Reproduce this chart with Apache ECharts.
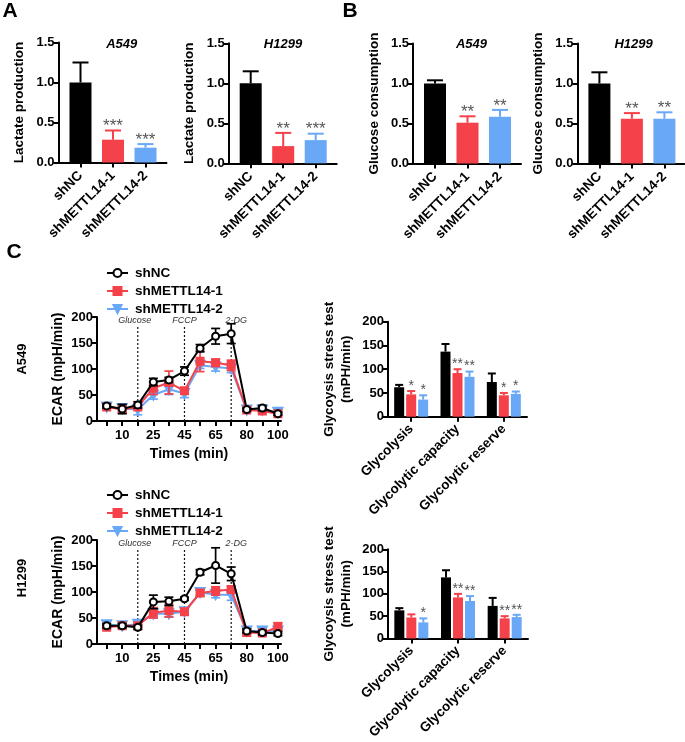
<!DOCTYPE html>
<html><head><meta charset="utf-8">
<script src="https://cdn.jsdelivr.net/npm/echarts@6/dist/echarts.min.js"></script>
<style>html,body{margin:0;padding:0;background:#fff}#c{width:685px;height:742px}</style>
</head><body><div id="c"></div>
<script>
// ---------------- DATA ----------------
const groupNames = ['shNC', 'shMETTL14-1', 'shMETTL14-2'];

// Panel A: lactate production
const lactA549 = [1.00, 0.285, 0.185];
const lactA549Sd = [0.25, 0.115, 0.045];
const lactA549Sig = ['', '***', '***'];
const lactH1299 = [1.00, 0.215, 0.29];
const lactH1299Sd = [0.15, 0.165, 0.08];
const lactH1299Sig = ['', '**', '***'];

// Panel B: glucose consumption
const glucA549 = [1.00, 0.51, 0.585];
const glucA549Sd = [0.04, 0.08, 0.085];
const glucA549Sig = ['', '**', '**'];
const glucH1299 = [1.00, 0.56, 0.56];
const glucH1299Sd = [0.14, 0.07, 0.08];
const glucH1299Sig = ['', '**', '**'];

// Panel C: ECAR time course (12 measurements)
const timeTickLabels = ['10', '25', '45', '65', '80', '100'];
const timeTickPoints = [2, 4, 6, 8, 10, 12];
const injections = ['Glucose', 'FCCP', '2-DG'];
const injectionPoints = [3, 6, 9];

const ecarA549_shNC = [29, 23, 31, 75, 79, 96, 140, 163, 168, 22, 25, 14];
const ecarA549_shNC_sd = [4, 9, 6, 7, 5, 8, 7, 15, 19, 3, 5, 3];
const ecarA549_sh1 = [27, 22, 27, 63, 74, 58, 115, 112, 107, 21, 19, 14];
const ecarA549_sh1_sd = [3, 5, 4, 12, 22, 6, 20, 7, 10, 3, 3, 3];
const ecarA549_sh2 = [27, 24, 22, 50, 61, 53, 107, 104, 101, 21, 21, 17];
const ecarA549_sh2_sd = [3, 4, 10, 8, 10, 8, 6, 8, 8, 3, 3, 5];

const ecarH1299_shNC = [35, 35, 32, 81, 82, 87, 138, 151, 135, 25, 22, 20];
const ecarH1299_shNC_sd = [4, 4, 4, 13, 8, 3, 5, 34, 13, 4, 4, 4];
const ecarH1299_sh1 = [32, 35, 35, 60, 64, 62, 98, 102, 105, 22, 21, 33];
const ecarH1299_sh1_sd = [4, 3, 3, 10, 12, 6, 6, 8, 6, 3, 3, 8];
const ecarH1299_sh2 = [37, 35, 38, 58, 58, 62, 99, 95, 94, 25, 25, 25];
const ecarH1299_sh2_sd = [3, 3, 4, 8, 6, 5, 5, 6, 10, 3, 4, 4];

// Panel C: glycolysis stress test
const stressCats = ['Glycolysis', 'Glycolytic capacity', 'Glycolytic reserve'];
const stressA549 = [[62, 137, 73], [47, 92, 45], [36, 84, 48]];
const stressA549Sd = [[5, 16, 18], [7, 8, 5], [9, 11, 5]];
const stressA549Sig = [['', '', ''], ['*', '**', '*'], ['*', '**', '*']];
const stressH1299 = [[63, 137, 73], [47, 92, 45], [36, 84, 48]];
const stressH1299Sd = [[5, 16, 18], [7, 8, 5], [9, 11, 5]];
const stressH1299Sig = [['', '', ''], ['', '**', '**'], ['*', '**', '**']];

// ---------------- STYLE ----------------
const FONT = '"Liberation Sans", Arial, Helvetica, sans-serif';
const COLORS = ['#000000', '#f5414a', '#69a8f7'];
const STAR = '#555555';
const axisLine = { show: true, onZero: false, lineStyle: { color: '#000', width: 2 } };
const axisTick = { show: true, length: 5, lineStyle: { color: '#000', width: 2 } };
const lbl = (size, extra) => Object.assign({ color: '#000', fontWeight: 'bold', fontSize: size, fontFamily: FONT }, extra || {});

const grids = [], xAxes = [], yAxes = [], series = [];

// ---------- simple bar panels (A, B) ----------
const simplePanels = [
  { box: { left: 58.5, top: 42.5, width: 108, height: 120 }, m: lactA549, sd: lactA549Sd, sig: lactA549Sig, yName: 'Lactate production' },
  { box: { left: 228.7, top: 43.3, width: 108, height: 120 }, m: lactH1299, sd: lactH1299Sd, sig: lactH1299Sig, yName: 'Lactate production' },
  { box: { left: 413, top: 43.5, width: 108, height: 120 }, m: glucA549, sd: glucA549Sd, sig: glucA549Sig, yName: 'Glucose consumption' },
  { box: { left: 577.4, top: 43.5, width: 107, height: 120 }, m: glucH1299, sd: glucH1299Sd, sig: glucH1299Sig, yName: 'Glucose consumption' }
];
const SPACING = 32.5;
simplePanels.forEach((p) => {
  const gi = grids.length;
  grids.push(Object.assign({ containLabel: false }, p.box));
  const xmin = 1 - 22 / SPACING;
  xAxes.push({
    gridIndex: gi, type: 'value', min: xmin, max: xmin + p.box.width / SPACING,
    axisLine, splitLine: { show: false },
    axisTick: Object.assign({ customValues: [1, 2, 3] }, axisTick),
    axisLabel: Object.assign(lbl(13.5), { customValues: [1, 2, 3], rotate: 45, margin: 11, formatter: (v) => groupNames[Math.round(v) - 1] })
  });
  yAxes.push({
    gridIndex: gi, type: 'value', min: 0, max: 1.5, interval: 0.5,
    axisLine, axisTick, splitLine: { show: false },
    axisLabel: Object.assign(lbl(13), { margin: 4, formatter: (v) => v.toFixed(1) }),
    name: p.yName, nameLocation: 'middle', nameRotate: 90, nameGap: 32,
    nameTextStyle: lbl(13.5)
  });
  series.push({
    type: 'bar', xAxisIndex: gi, yAxisIndex: gi, barWidth: 22, z: 2,
    data: p.m.map((v, i) => ({ value: [i + 1, v], itemStyle: { color: COLORS[i] } }))
  });
  series.push({
    type: 'custom', xAxisIndex: gi, yAxisIndex: gi, z: 3,
    data: p.m.map((v, i) => [i + 1, v, p.sd[i]]),
    renderItem: (params, api) => {
      const i = params.dataIndex;
      const x = api.value(0), m = api.value(1), s = api.value(2);
      const a = api.coord([x, m]), b = api.coord([x, m + s]);
      const col = COLORS[i];
      const ch = [
        { type: 'line', shape: { x1: a[0], y1: a[1], x2: b[0], y2: b[1] }, style: { stroke: col, lineWidth: 2 } },
        { type: 'line', shape: { x1: b[0] - 8, y1: b[1], x2: b[0] + 8, y2: b[1] }, style: { stroke: col, lineWidth: 2 } }
      ];
      if (p.sig[i]) ch.push({ type: 'text', x: b[0], y: b[1] - 4, style: { text: p.sig[i], fill: STAR, font: '17px ' + FONT, align: 'center', verticalAlign: 'middle', textAlign: 'center', textVerticalAlign: 'middle' } });
      return { type: 'group', children: ch };
    }
  });
});

// ---------- ECAR line charts ----------
const linePanels = [
  { box: { left: 97, top: 317, width: 184, height: 104 }, d: [[ecarA549_shNC, ecarA549_shNC_sd], [ecarA549_sh1, ecarA549_sh1_sd], [ecarA549_sh2, ecarA549_sh2_sd]], legendTop: 261 },
  { box: { left: 97, top: 540, width: 184, height: 104 }, d: [[ecarH1299_shNC, ecarH1299_shNC_sd], [ecarH1299_sh1, ecarH1299_sh1_sd], [ecarH1299_sh2, ecarH1299_sh2_sd]], legendTop: 483 }
];
const symbols = [
  { symbol: 'emptyCircle', symbolSize: 7, symbolRotate: 0 },
  { symbol: 'rect', symbolSize: 7, symbolRotate: 0 },
  { symbol: 'triangle', symbolSize: 9, symbolRotate: 180 }
];
const legends = [];
linePanels.forEach((p) => {
  const gi = grids.length;
  grids.push(Object.assign({ containLabel: false }, p.box));
  xAxes.push({
    gridIndex: gi, type: 'value', min: 0.38, max: 12.2,
    axisLine, splitLine: { show: false },
    axisTick: Object.assign({ customValues: [1, 2, 3, 4, 5, 6, 7, 8, 9, 10, 11, 12] }, axisTick),
    axisLabel: Object.assign(lbl(13), { customValues: timeTickPoints, margin: 8, formatter: (v) => timeTickLabels[timeTickPoints.indexOf(Math.round(v))] }),
    name: 'Times (min)', nameLocation: 'middle', nameGap: 26, nameTextStyle: lbl(14)
  });
  yAxes.push({
    gridIndex: gi, type: 'value', min: 0, max: 200, interval: 50,
    axisLine, axisTick, splitLine: { show: false },
    axisLabel: Object.assign(lbl(13), { margin: 4 }),
    name: 'ECAR (mpH/min)', nameLocation: 'middle', nameRotate: 90, nameGap: 32, nameTextStyle: lbl(14)
  });
  // injection markers
  series.push({
    type: 'custom', xAxisIndex: gi, yAxisIndex: gi, z: 1, silent: true,
    data: injectionPoints.map((x) => [x, 184]),
    renderItem: (params, api) => {
      const a = api.coord([api.value(0), 0]), b = api.coord([api.value(0), api.value(1)]);
      const dx = [-3, 0, 5][params.dataIndex];
      return { type: 'group', children: [
        { type: 'line', shape: { x1: a[0], y1: a[1], x2: b[0], y2: b[1] }, style: { stroke: '#111', lineWidth: 1.2, lineDash: [2, 2] } },
        { type: 'text', x: b[0] + dx, y: b[1] - 5, style: { text: injections[params.dataIndex], fill: '#333', font: 'italic 9px ' + FONT, align: 'center', verticalAlign: 'middle', textAlign: 'center', textVerticalAlign: 'middle' } }
      ] };
    }
  });
  // draw order: shMETTL14-2 (bottom), shMETTL14-1, shNC (top)
  [2, 1, 0].forEach((k) => {
    const [m, sd] = p.d[k];
    series.push({
      type: 'custom', xAxisIndex: gi, yAxisIndex: gi, z: 3 + (2 - k) * 2, silent: true,
      data: m.map((v, i) => [i + 1, v, sd[i]]),
      renderItem: (params, api) => {
        const x = api.value(0), v = api.value(1), s = api.value(2);
        const t = api.coord([x, v + s]), bm = api.coord([x, v - s]);
        const st = { stroke: COLORS[k], lineWidth: 1.7 };
        return { type: 'group', children: [
          { type: 'line', shape: { x1: t[0], y1: t[1], x2: bm[0], y2: bm[1] }, style: Object.assign({}, st) },
          { type: 'line', shape: { x1: t[0] - 4.5, y1: t[1], x2: t[0] + 4.5, y2: t[1] }, style: Object.assign({}, st) },
          { type: 'line', shape: { x1: bm[0] - 4.5, y1: bm[1], x2: bm[0] + 4.5, y2: bm[1] }, style: Object.assign({}, st) }
        ] };
      }
    });
    series.push(Object.assign({
      type: 'line', name: groupNames[k], xAxisIndex: gi, yAxisIndex: gi, z: 4 + (2 - k) * 2,
      data: m.map((v, i) => [i + 1, v]),
      lineStyle: { color: COLORS[k], width: 2 },
      itemStyle: { color: COLORS[k], borderColor: COLORS[k], borderWidth: 2 },
      emphasis: { disabled: true }
    }, symbols[k]));
  });
  legends.push({
    orient: 'vertical', left: 101, top: p.legendTop, itemWidth: 21, itemHeight: 10, itemGap: 4,
    data: groupNames, selectedMode: false,
    textStyle: lbl(13.5, { padding: [0, 0, 0, 2] })
  });
});

// ---------- glycolysis stress test grouped bars ----------
const stressPanels = [
  { box: { left: 388, top: 321.7, width: 139, height: 95 }, m: stressA549, sd: stressA549Sd, sig: stressA549Sig },
  { box: { left: 388, top: 549.3, width: 140, height: 95 }, m: stressH1299, sd: stressH1299Sd, sig: stressH1299Sig }
];
const GBW = 10, GGAP = 2;
stressPanels.forEach((p) => {
  const gi = grids.length;
  grids.push(Object.assign({ containLabel: false }, p.box));
  xAxes.push({
    gridIndex: gi, type: 'category', data: stressCats,
    axisLine, splitLine: { show: false }, axisTick: Object.assign({ alignWithLabel: true }, axisTick),
    axisLabel: Object.assign(lbl(13.5), { rotate: 45, margin: 10, interval: 0 })
  });
  yAxes.push({
    gridIndex: gi, type: 'value', min: 0, max: 200, interval: 50,
    axisLine, axisTick, splitLine: { show: false },
    axisLabel: Object.assign(lbl(13), { margin: 4 }),
    name: 'Glycoysis stress test\n(mPH/min)', nameLocation: 'middle', nameRotate: 90, nameGap: 33,
    nameTextStyle: lbl(13.5, { lineHeight: 17, align: 'center' })
  });
  [0, 1, 2].forEach((k) => {
    series.push({
      type: 'bar', name: groupNames[k] + ' stress', xAxisIndex: gi, yAxisIndex: gi, barWidth: GBW, barGap: '20%', z: 2,
      itemStyle: { color: COLORS[k] }, data: p.m[k]
    });
  });
  [0, 1, 2].forEach((k) => {
    series.push({
      type: 'custom', xAxisIndex: gi, yAxisIndex: gi, z: 3, silent: true,
      data: p.m[k].map((v, i) => [i, v, p.sd[k][i]]),
      renderItem: (params, api) => {
        const i = params.dataIndex, v = api.value(1), s = api.value(2);
        const off = (k - 1) * (GBW + GGAP);
        const a = api.coord([i, v]), b = api.coord([i, v + s]);
        const x = a[0] + off;
        const ch = [
          { type: 'line', shape: { x1: x, y1: a[1], x2: x, y2: b[1] }, style: { stroke: COLORS[k], lineWidth: 2 } },
          { type: 'line', shape: { x1: x - 4, y1: b[1], x2: x + 4, y2: b[1] }, style: { stroke: COLORS[k], lineWidth: 2 } }
        ];
        const sg = p.sig[k][i];
        if (sg) ch.push({ type: 'text', x: x, y: b[1] - 5, style: { text: sg, fill: STAR, font: '14px ' + FONT, align: 'center', verticalAlign: 'middle', textAlign: 'center', textVerticalAlign: 'middle' } });
        return { type: 'group', children: ch };
      }
    });
  });
});

// ---------- free text ----------
const txt = (t, x, y, font, rot, color) => ({
  type: 'text', x: x, y: y, rotation: rot || 0, silent: true,
  style: { text: t, font: font, fill: color || '#000', align: 'center', verticalAlign: 'middle', textAlign: 'center', textVerticalAlign: 'middle' }
});
const graphic = [
  txt('A', 10, 11, 'bold 21px ' + FONT),
  txt('B', 350, 11, 'bold 21px ' + FONT),
  txt('C', 14, 252, 'bold 21px ' + FONT),
  txt('A549', 121.7, 44, 'italic bold 13px ' + FONT),
  txt('H1299', 283, 44, 'italic bold 13px ' + FONT),
  txt('A549', 471.5, 44, 'italic bold 13px ' + FONT),
  txt('H1299', 633.6, 44, 'italic bold 13px ' + FONT),
  txt('A549', 22, 359, 'bold 13px ' + FONT, Math.PI / 2),
  txt('H1299', 22, 578, 'bold 13px ' + FONT, Math.PI / 2)
];

const chart = echarts.init(document.getElementById('c'), null, { renderer: 'canvas', width: 685, height: 742 });
chart.setOption({
  backgroundColor: '#fff',
  animation: false,
  textStyle: { fontFamily: FONT },
  grid: grids, xAxis: xAxes, yAxis: yAxes, series: series,
  legend: legends, graphic: graphic
});
</script></body></html>
